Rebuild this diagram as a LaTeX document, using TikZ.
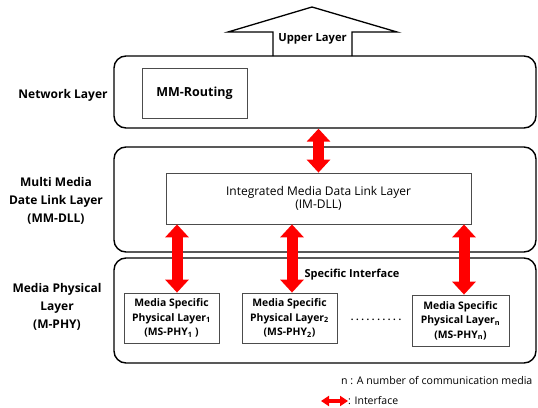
\documentclass[tikz,border=0pt]{standalone}
\usepackage{fontspec}
\setmainfont{Open Sans}
\usetikzlibrary{arrows.meta,calc}
\tikzset{
  layerbox/.style={draw=black, line width=1.4pt, rounded corners=12pt, minimum width=422pt, inner sep=0pt},
  innerbox/.style={draw=black!70, line width=0.8pt, fill=white, inner sep=0pt, align=center},
  lbl/.style={font=\bfseries\fontsize{12}{18}\selectfont, align=center},
  msfont/.style={font=\bfseries\fontsize{10.4}{14.5}\selectfont},
  iarrow/.style={draw=red, line width=11pt, {Triangle[width=23pt,length=13pt]}-{Triangle[width=23pt,length=13pt]}},
  larrow/.style={draw=red, line width=4pt, {Triangle[width=10pt,length=8pt]}-{Triangle[width=10pt,length=8pt]}},
}
\begin{document}
\begin{tikzpicture}[x=1pt,y=-1pt]
\useasboundingbox (0,0) rectangle (538,407);
% upper layer arrow
\draw[line width=1.3pt, fill=white] (273,56) -- (273,32) -- (228,32) -- (312,7) -- (397,32) -- (352,32) -- (352,56);
\node[font=\bfseries\fontsize{11.2}{13}\selectfont] (upper) at (312.5,39) {Upper Layer};
% layer boxes
\node[layerbox, minimum height=72pt] (net) at (325,92) {};
\node[layerbox, minimum height=105pt] (dll) at (325,199.5) {};
\node[layerbox, minimum height=105pt] (phy) at (325,310.5) {};
% left labels
\node[lbl] (netl) at (63,95) {Network Layer};
\node[lbl] (dlll) at (56,201) {Multi Media\\Date Link Layer\\(MM-DLL)};
\node[lbl] (phyl) at (57,307) {Media Physical\\Layer\\(M-PHY)};
% inner boxes
\node[innerbox, minimum width=105pt, minimum height=50pt, font=\bfseries\fontsize{12.5}{14}\selectfont] (route) at (194.5,93) {MM-Routing};
\node[innerbox, minimum width=305pt, minimum height=51pt, font=\fontsize{12}{13.5}\selectfont] (imdll) at (318.5,198.5) {Integrated Media Data Link Layer\\(IM-DLL)};
\node[innerbox, minimum width=95pt, minimum height=50pt, msfont] (ms1) at (171.5,318) {Media Specific\\Physical Layer\textsubscript{1}\\(MS-PHY\textsubscript{1} )};
\node[innerbox, minimum width=95pt, minimum height=50pt, msfont] (ms2) at (289.5,318) {Media Specific\\Physical Layer\textsubscript{2}\\(MS-PHY\textsubscript{2})};
\node[innerbox, minimum width=97pt, minimum height=51pt, msfont] (msn) at (460.5,320.5) {Media Specific\\Physical Layer\textsubscript{n}\\(MS-PHY\textsubscript{n})};
\node[font=\bfseries\fontsize{9.5}{12}\selectfont] (dots) at (376,320) {.\kern2.6pt.\kern2.6pt.\kern2.6pt.\kern2.6pt.\kern2.6pt.\kern2.6pt.\kern2.6pt.\kern2.6pt.\kern2.6pt.};
\node[font=\bfseries\fontsize{11}{13}\selectfont] (spec) at (352,275) {Specific Interface};
% interface arrows
\draw[iarrow] (net.south -| imdll.north) -- (imdll.north);
\coordinate (a1) at ([xshift=5.5pt]ms1.north);
\coordinate (a2) at ([xshift=2.5pt]ms2.north);
\coordinate (a3) at ([xshift=3.5pt]msn.north);
\draw[iarrow] (a1 |- imdll.south) -- (a1);
\draw[iarrow] (a2 |- imdll.south) -- (a2);
\draw[iarrow] (a3 |- imdll.south) -- (a3);
% footnotes
\node[anchor=west, font=\fontsize{10.6}{13}\selectfont, inner sep=0pt] (note) at (341,381) {n : A number of communication media};
\coordinate (l1) at (321,401);
\node[anchor=west, font=\fontsize{10.5}{12}\selectfont, inner sep=0pt] (leg) at (348,401) {: Interface};
\draw[larrow] (l1) -- (leg.west);
\end{tikzpicture}
\end{document}
